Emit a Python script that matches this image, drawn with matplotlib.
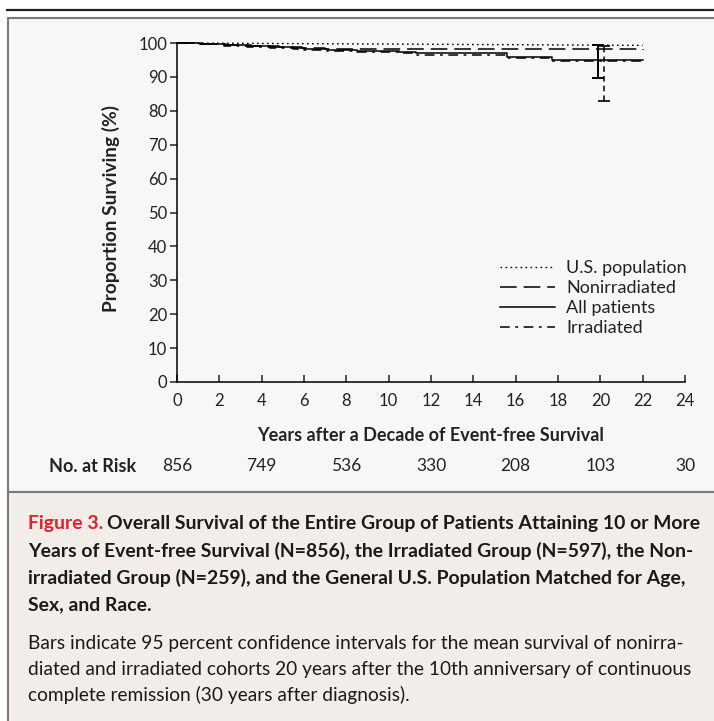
import matplotlib.pyplot as plt
from matplotlib.patches import Rectangle
from matplotlib.transforms import blended_transform_factory

plt.rcParams['font.family'] = ['Lato', 'DejaVu Sans']
plt.rcParams['lines.scale_dashes'] = False

W, H = 714, 721

# survival curves: years after a decade of event-free survival vs % surviving
years_us = [0, 22]
surv_us = [100, 99.3]

years_nonirr = [0, 1.2, 2.3, 3.5, 4.8, 5.9, 7.0, 8.4, 10.4, 22]
surv_nonirr = [100, 99.7, 99.4, 99.1, 98.8, 98.5, 98.3, 98.2, 98.1, 98.0]

years_all = [0, 1.1, 2.2, 3.3, 4.4, 5.5, 6.0, 7.1, 8.5, 10.5, 11.3, 15.6, 17.7, 22]
surv_all = [100, 99.6, 99.3, 99.1, 98.8, 98.4, 98.1, 97.9, 97.6, 97.3, 97.0, 96.0, 95.0, 95.0]

years_irr = [0, 1.1, 2.2, 3.3, 4.4, 5.5, 6.0, 7.1, 8.5, 10.5, 11.3, 15.6, 17.7, 22]
surv_irr = [100, 99.6, 99.2, 98.9, 98.6, 98.2, 97.9, 97.6, 97.3, 97.0, 96.6, 95.6, 94.8, 94.8]

# 95% confidence intervals at 20 years
ci_year = 20
ci_nonirr = (98.0, 89.8, 99.4)   # center, low, high
ci_irr = (94.8, 82.9, 99.2)

risk_years = [0, 4, 8, 12, 16, 20, 24]
risk_n = [856, 749, 536, 330, 208, 103, 30]

ls_dot = (0, (1.2, 2.4))
ls_nonirr = (0, (12, 5))
ls_irr = (0, (7, 4, 2, 4))


def fx(x):
    return x / W


def fy(y):
    return 1 - y / H


fig = plt.figure(figsize=(W / 100, H / 100), dpi=100)
fig.patch.set_facecolor('white')

# panel backgrounds and rules
fig.patches.append(Rectangle((fx(8), fy(492)), 1, fy(18) - fy(492), transform=fig.transFigure,
                             facecolor='#f7f7f7', edgecolor='#7a7a7a', lw=1.5, zorder=-2))
fig.patches.append(Rectangle((fx(8), fy(740)), 1, fy(492) - fy(740), transform=fig.transFigure,
                             facecolor='#f2ede8', edgecolor='#7a7a7a', lw=1.5, zorder=-2))
fig.add_artist(plt.Line2D([fx(7), 1], [fy(10), fy(10)], transform=fig.transFigure,
                          color='#222222', lw=1.6))

ax = fig.add_axes([fx(177), fy(382), fx(685) - fx(177), fy(43) - fy(382)])
ax.set_facecolor('none')
ax.set_zorder(1)

ax.plot(years_us, surv_us, color='black', lw=1.0, ls=ls_dot, label='U.S. population', clip_on=False)
ax.step(years_nonirr, surv_nonirr, where='post', color='black', lw=1.1, ls=ls_nonirr,
        label='Nonirradiated', clip_on=False)
ax.step(years_all, surv_all, where='post', color='black', lw=1.1, label='All patients', clip_on=False)
ax.step(years_irr, surv_irr, where='post', color='black', lw=1.1, ls=ls_irr,
        label='Irradiated', clip_on=False)

c, lo, hi = ci_nonirr
eb = ax.errorbar(ci_year - 0.1, c, yerr=[[c - lo], [hi - c]], fmt='none', ecolor='black',
                 elinewidth=1.4, capsize=4.5, capthick=1.4, clip_on=False)
c, lo, hi = ci_irr
eb2 = ax.errorbar(ci_year + 0.15, c, yerr=[[c - lo], [hi - c]], fmt='none', ecolor='black',
                  elinewidth=1.1, capsize=4.5, capthick=1.2, clip_on=False)
for lc in eb2[2]:
    lc.set_linestyle((0, (4, 3)))

ax.set_xlim(0, 24)
ax.set_ylim(0, 100)
ax.set_xticks(range(0, 25, 2))
ax.set_yticks(range(0, 101, 10))
for s in ['top', 'right']:
    ax.spines[s].set_visible(False)
for s in ['left', 'bottom']:
    ax.spines[s].set_linewidth(1.1)
ax.tick_params(axis='x', direction='in', length=5, width=1.1, pad=8, labelsize=12, colors='#222222')
ax.tick_params(axis='y', direction='out', length=5, width=1.1, pad=2, labelsize=12, colors='#222222')

ax.set_xlabel('Years after a Decade of Event-free Survival', fontsize=13, fontweight='bold',
              color='#222222', labelpad=13)
fig.text(fx(111), fy(209), 'Proportion Surviving (%)', rotation=90, ha='center', va='center',
         fontsize=13.8, fontweight='bold', color='#222222')

ax.legend(loc='upper left', bbox_to_anchor=(fx(500), fy(260)), bbox_transform=fig.transFigure,
          frameon=False, fontsize=13, handlelength=3.05, handletextpad=0.6, labelspacing=0.22,
          borderpad=0, borderaxespad=0, labelcolor='#222222')

# numbers at risk
tr = blended_transform_factory(ax.transData, fig.transFigure)
fig.text(fx(49), fy(466), 'No. at Risk', fontsize=13, fontweight='bold', va='center', color='#222222')
for yr, n in zip(risk_years, risk_n):
    ax.text(yr, fy(466), str(n), transform=tr, ha='center', va='center', fontsize=12.5,
            color='#222222', clip_on=False)

# caption
red = '#e3202b'
bold_lines = [
    'Overall Survival of the Entire Group of Patients Attaining 10 or More',
    'Years of Event-free Survival (N=856), the Irradiated Group (N=597), the Non-',
    'irradiated Group (N=259), and the General U.S. Population Matched for Age,',
    'Sex, and Race.',
]
plain_lines = [
    'Bars indicate 95 percent confidence intervals for the mean survival of nonirra-',
    'diated and irradiated cohorts 20 years after the 10th anniversary of continuous',
    'complete remission (30 years after diagnosis).',
]
cap_size = 13.95
t_fig = fig.text(fx(28), fy(523), 'Figure 3.', color=red, fontsize=cap_size, fontweight='bold',
                 va='center')
fig.canvas.draw()
bb = t_fig.get_window_extent()
fig.text(fx(bb.x1 + 4), fy(523), bold_lines[0], fontsize=cap_size, fontweight='bold',
         va='center', color='#1a1a1a')
for i, line in enumerate(bold_lines[1:]):
    fig.text(fx(28), fy(551 + 27 * i), line, fontsize=cap_size, fontweight='bold',
             va='center', color='#1a1a1a')
for i, line in enumerate(plain_lines):
    fig.text(fx(28), fy(643 + 26 * i), line, fontsize=13.8, va='center', color='#1a1a1a')

fig.savefig('out.png', dpi=100)
